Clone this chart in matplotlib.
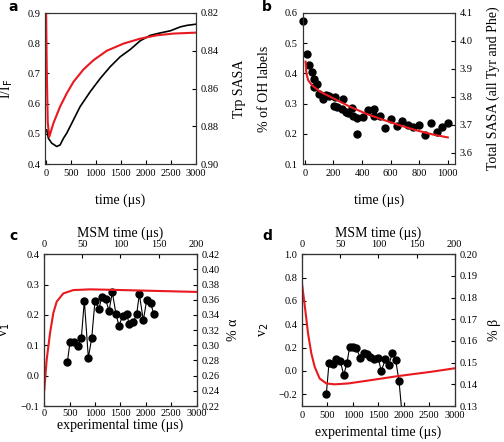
import numpy as np
import matplotlib
matplotlib.use("Agg")
import matplotlib.pyplot as plt

plt.rcParams["font.family"] = ["Liberation Serif", "DejaVu Serif"]
plt.rcParams["font.size"] = 7.5
plt.rcParams["xtick.direction"] = "in"
plt.rcParams["ytick.direction"] = "in"
plt.rcParams["xtick.major.size"] = 3
plt.rcParams["ytick.major.size"] = 3
plt.rcParams["axes.linewidth"] = 0.8
plt.rcParams["axes.edgecolor"] = "#333333"

RED = "#e8191f"

# panel a: fluorescence (black) and Trp SASA (red)
a_time = [20, 53, 119, 219, 286, 353, 419, 553, 686, 886, 1086, 1286, 1486,
          1686, 1886, 2086, 2286, 2486, 2686, 2819, 3000]
a_fluor = [0.513, 0.485, 0.469, 0.458, 0.463, 0.485, 0.502, 0.546, 0.590, 0.639,
           0.683, 0.722, 0.755, 0.779, 0.808, 0.826, 0.834, 0.841, 0.854, 0.859, 0.863]
a_sasa_time = [0, 20, 40, 70, 153, 286, 419, 553, 753, 953, 1219, 1553, 1886,
               2219, 2553, 3000]
a_sasa = [0.800, 0.850, 0.878, 0.8856, 0.8784, 0.8696, 0.8626, 0.8565, 0.8499,
          0.8450, 0.8400, 0.8362, 0.8336, 0.8318, 0.8309, 0.8304]

# panel b: OH labels (black dots) and total SASA (red)
b_time = [-12, 16, 28, 47, 65, 65, 86, 100, 124, 147, 171, 208, 203, 227, 264,
          257, 287, 304, 327, 339, 367, 367, 404, 444, 483, 483, 526, 563, 600,
          642, 682, 724, 759, 801, 841, 881, 923, 960, 1000]
b_oh = [0.574, 0.463, 0.427, 0.403, 0.383, 0.356, 0.365, 0.332, 0.314, 0.327,
        0.325, 0.321, 0.292, 0.290, 0.314, 0.282, 0.273, 0.268, 0.286, 0.259,
        0.251, 0.200, 0.254, 0.279, 0.281, 0.259, 0.260, 0.220, 0.248, 0.225,
        0.242, 0.228, 0.223, 0.229, 0.195, 0.237, 0.206, 0.221, 0.237]
b_sasa_time = [5, 11, 23, 47, 105, 199, 315, 432, 549, 666, 783, 899, 1000]
b_sasa = [3.926, 3.884, 3.860, 3.843, 3.819, 3.795, 3.765, 3.739, 3.718, 3.698,
          3.680, 3.665, 3.655]

# panel c: v1 (black) and % alpha vs MSM time (red)
c_time = [453, 506, 585, 663, 729, 788, 867, 933, 998, 1077, 1129, 1208, 1274,
          1339, 1411, 1470, 1543, 1621, 1674, 1753, 1818, 1871, 1949, 2015, 2094, 2159]
c_v1 = [0.044, 0.110, 0.112, 0.098, 0.124, 0.247, 0.059, 0.123, 0.247, 0.220,
        0.259, 0.252, 0.213, 0.275, 0.203, 0.165, 0.197, 0.202, 0.170, 0.178,
        0.202, 0.269, 0.182, 0.249, 0.238, 0.202]
c_msm = [0, 3.1, 7.5, 11.8, 16.3, 24.9, 38, 60, 103.7, 200]
c_alpha = [0.2412, 0.2808, 0.3160, 0.3424, 0.3576, 0.3684, 0.3728, 0.3738,
           0.3728, 0.3704]

# panel d: v2 (black) and % beta vs MSM time (red)
d_time = [478, 530, 609, 674, 753, 819, 884, 936, 1002, 1067, 1146, 1211, 1277,
          1342, 1408, 1493, 1558, 1637, 1703, 1775, 1840, 1906, 1972]
d_v2 = [-0.197, 0.066, 0.057, 0.100, 0.085, -0.034, 0.068, 0.208, 0.203, 0.194,
        0.114, 0.151, 0.143, 0.123, 0.100, 0.114, 0.000, 0.100, 0.051, 0.151,
        0.094, -0.086, -0.400]
d_msm = [0, 4.3, 7.9, 12.2, 16.6, 23.1, 31.9, 42.8, 60.3, 82, 125.7, 169.4, 200]
d_beta = [0.1865, 0.1743, 0.1635, 0.1543, 0.1481, 0.1427, 0.1404, 0.1400,
          0.1404, 0.1415, 0.1438, 0.1458, 0.1474]

W, H = 504, 442


def box(x0, x1, y0, y1):
    # pixel box -> figure fraction
    return [x0 / W, 1 - y1 / H, (x1 - x0) / W, (y1 - y0) / H]


def place_labels(ax, ax_right, xl, yl, yr):
    ax.xaxis.set_label_coords(0.5, xl)
    ax.yaxis.set_label_coords(yl, 0.5)
    ax_right.yaxis.set_label_coords(yr, 0.5)
    ax.xaxis.label.set_va("center")
    ax.yaxis.label.set_va("center")
    ax_right.yaxis.label.set_va("center")


fig = plt.figure(figsize=(5.04, 4.42), dpi=100)

# ---- a ----
ax = fig.add_axes(box(45, 196, 13, 164))
ax.plot(a_time, a_fluor, color="black", lw=1.2)
ax.set_xlim(-15, 3000)
ax.set_ylim(0.4, 0.9)
ax.set_xticks(np.arange(0, 3001, 500))
ax.set_yticks(np.arange(0.4, 0.91, 0.1))
ax.set_xlabel("time (\u03bcs)", fontsize=10)
ax.set_ylabel("I/I$_\\mathrm{F}$", fontsize=10)
axr = ax.twinx()
axr.plot(a_sasa_time, a_sasa, color=RED, lw=1.5)
axr.set_ylim(0.90, 0.82)
axr.set_yticks([0.82, 0.84, 0.86, 0.88, 0.90])
axr.set_ylabel("Trp SASA", fontsize=10)
place_labels(ax, axr, -0.24, -0.25, 1.29)
fig.text(13 / W, 1 - 7 / H, "a", fontsize=10, fontweight="bold",
         family="DejaVu Sans", ha="center", va="center")

# ---- b ----
ax = fig.add_axes(box(302.7, 455, 13, 164))
ax.plot(b_time, b_oh, "o", color="black", ms=5, clip_on=False, zorder=3)
ax.set_xlim(-15, 1050)
ax.set_ylim(0.1, 0.6)
ax.set_xticks(np.arange(0, 1001, 200))
ax.set_yticks(np.arange(0.1, 0.61, 0.1))
ax.set_xlabel("time (\u03bcs)", fontsize=10)
ax.set_ylabel("% of OH labels", fontsize=10)
axr = ax.twinx()
axr.plot(b_sasa_time, b_sasa, color=RED, lw=1.5)
axr.set_ylim(3.56, 4.1)
axr.set_yticks(np.arange(3.6, 4.11, 0.1))
axr.set_ylabel("Total SASA (all Tyr and Phe)", fontsize=10)
place_labels(ax, axr, -0.24, -0.25, 1.25)
fig.text(267 / W, 1 - 7 / H, "b", fontsize=10, fontweight="bold",
         family="DejaVu Sans", ha="center", va="center")

# ---- c ----
ax = fig.add_axes(box(44.3, 196.7, 254.3, 406))
ax.plot(c_time, c_v1, "-o", color="black", lw=0.8, ms=5)
ax.set_xlim(0, 3000)
ax.set_ylim(-0.1, 0.4)
ax.set_xticks(np.arange(0, 3001, 500))
ax.set_yticks(np.arange(-0.1, 0.41, 0.1))
ax.tick_params(axis="x", pad=2)
ax.set_xlabel("experimental time (\u03bcs)", fontsize=10)
ax.set_ylabel("v$_1$", fontsize=10)
axr = ax.twinx()
axr.set_ylim(0.22, 0.42)
axr.set_yticks(np.arange(0.22, 0.421, 0.02))
axr.set_ylabel("% \u03b1", fontsize=10)
axt = axr.twiny()
axt.plot(c_msm, c_alpha, color=RED, lw=1.5)
axt.set_xlim(0, 200)
axt.set_xticks(np.arange(0, 201, 50))
axt.set_xlabel("MSM time (\u03bcs)", fontsize=10)
axt.xaxis.set_label_coords(0.5, 1.14)
axt.xaxis.label.set_va("center")
place_labels(ax, axr, -0.13, -0.255, 1.24)
fig.text(13 / W, 1 - 236 / H, "c", fontsize=10, fontweight="bold",
         family="DejaVu Sans", ha="center", va="center")

# ---- d ----
ax = fig.add_axes(box(302, 454.7, 254.3, 406))
ax.plot(d_time, d_v2, "-o", color="black", lw=0.8, ms=5)
ax.set_xlim(0, 3000)
ax.set_ylim(-0.3, 1.0)
ax.set_xticks(np.arange(0, 3001, 500))
ax.set_yticks(np.arange(-0.2, 1.01, 0.2))
ax.set_xlabel("experimental time (\u03bcs)", fontsize=10)
ax.set_ylabel("v$_2$", fontsize=10)
axr = ax.twinx()
axr.set_ylim(0.13, 0.20)
axr.set_yticks(np.arange(0.13, 0.201, 0.01))
axr.set_ylabel("% \u03b2", fontsize=10)
axt = axr.twiny()
axt.plot(d_msm, d_beta, color=RED, lw=1.5)
axt.set_xlim(0, 200)
axt.set_xticks(np.arange(0, 201, 50))
axt.set_xlabel("MSM time (\u03bcs)", fontsize=10)
axt.xaxis.set_label_coords(0.5, 1.14)
axt.xaxis.label.set_va("center")
place_labels(ax, axr, -0.176, -0.25, 1.26)
fig.text(267 / W, 1 - 236 / H, "d", fontsize=10, fontweight="bold",
         family="DejaVu Sans", ha="center", va="center")

fig.savefig("out.png", dpi=100)
plt.close(fig)
